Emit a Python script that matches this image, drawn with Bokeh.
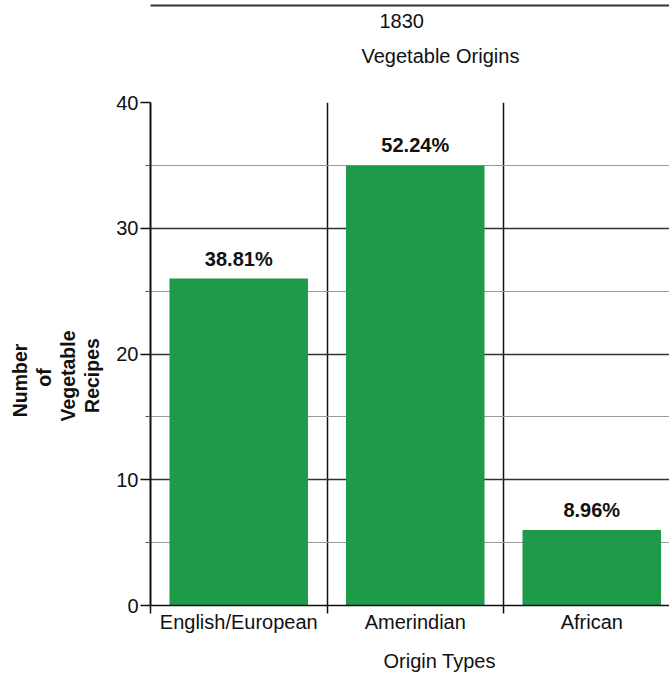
from bokeh.plotting import figure
from bokeh.models import Range1d, FixedTicker, Title, ColumnDataSource, LinearAxis
from bokeh.core.properties import value
from bokeh.embed import file_html
from bokeh.resources import INLINE

categories = ["English/European", "Amerindian", "African"]
counts = [26, 35, 6]
percents = ["38.81%", "52.24%", "8.96%"]
y_ticks = [0, 10, 20, 30, 40]
y_minor = [5, 15, 25, 35]
title_year = "1830"
title_main = "Vegetable Origins"
x_title = "Origin Types"
y_title_lines = ["Number", "of", "Vegetable", "Recipes"]

FONT = "Liberation Sans"
GREEN = "#1f9a4b"
INK = "#111111"

W, H = 669, 673
FL, FT, FB = 150, 102, 605
CAT_PX = 176.5
X_END = (W - FL) / CAT_PX

xpos = [i + 0.5 for i in range(len(categories))]
src = ColumnDataSource(dict(x=xpos, top=counts, label=percents))

p = figure(width=W, height=H, output_backend="svg", toolbar_location=None,
           x_range=Range1d(0, X_END), y_range=Range1d(0, 40))
p.min_border_left = FL
p.min_border_right = 0
p.min_border_top = FT
p.min_border_bottom = H - FB
p.outline_line_color = None
p.background_fill_color = "white"
p.border_fill_color = "white"

p.vbar(x="x", top="top", width=0.785, bottom=0, source=src,
       fill_color=GREEN, line_color=None)
p.text(x="x", y="top", text="label", source=src, text_align="center",
       text_baseline="alphabetic", y_offset=-20,
       text_font=value(FONT), text_font_style="bold",
       text_font_size="20px", text_color=INK)

# x axis
xa = p.xaxis[0]
xa.ticker = FixedTicker(ticks=xpos, minor_ticks=[0, 1, 2, 3])
xa.major_label_overrides = {x: c for x, c in zip(xpos, categories)}
xa.major_tick_out = 0
xa.major_tick_in = 0
xa.minor_tick_out = 8
xa.minor_tick_in = 0
xa.minor_tick_line_color = INK
xa.minor_tick_line_width = 1.5
xa.axis_line_color = INK
xa.axis_line_width = 1.5
xa.major_label_standoff = -3
xa.major_label_text_font = FONT
xa.major_label_text_font_size = "20px"
xa.major_label_text_color = INK

# y axis
ya = p.yaxis[0]
ya.ticker = FixedTicker(ticks=y_ticks, minor_ticks=y_minor)
ya.major_tick_out = 10
ya.major_tick_in = 0
ya.minor_tick_out = 5
ya.minor_tick_in = 0
ya.major_tick_line_color = INK
ya.minor_tick_line_color = "#555555"
ya.major_tick_line_width = 1.5
ya.axis_line_color = INK
ya.axis_line_width = 2
ya.major_label_standoff = 2
ya.major_label_text_font = FONT
ya.major_label_text_font_size = "20px"
ya.major_label_text_color = INK

# grids
p.xgrid.grid_line_color = None
p.xgrid.minor_grid_line_color = INK
p.xgrid.minor_grid_line_width = 1.5
p.ygrid.grid_line_color = "#333333"
p.ygrid.grid_line_width = 1.3
p.ygrid.minor_grid_line_color = "#9a9a9a"
p.ygrid.minor_grid_line_width = 1


def title(text, side, offset=0, standoff=0, size="20px", bold=False):
    t = Title(text=text, align="left", offset=offset, standoff=standoff,
              text_font=FONT, text_font_size=size,
              text_font_style="bold" if bold else "normal",
              text_color=INK)
    p.add_layout(t, side)


def spacer(side, standoff):
    # small white dot: only reserves room in the stacked side panel
    p.add_layout(Title(text=".", text_font_size="4px", standoff=standoff,
                       text_color="white"), side)


# above: stacked from the frame outward
spacer("above", 22)
title(title_main, "above", offset=211, standoff=18)
title(title_year, "above", offset=229, standoff=12)
# page edge line at the very top
top_rule = LinearAxis(ticker=FixedTicker(ticks=[]), axis_line_color="#333333",
                      axis_line_width=2, major_tick_out=0, major_tick_in=0,
                      minor_tick_out=0, minor_tick_in=0, major_label_standoff=0)
p.add_layout(top_rule, "above")

# below
spacer("below", 7)
title(x_title, "below", offset=233, standoff=0)

# left: multi-line y title, one line per title, stacked outward
spacer("left", 6)
for line, off in zip(reversed(y_title_lines), [192.6, 184, 218.8, 188.2]):
    title(line, "left", offset=off, standoff=0, size="19.5px", bold=True)

open("out.html", "w").write(file_html(p, INLINE))
